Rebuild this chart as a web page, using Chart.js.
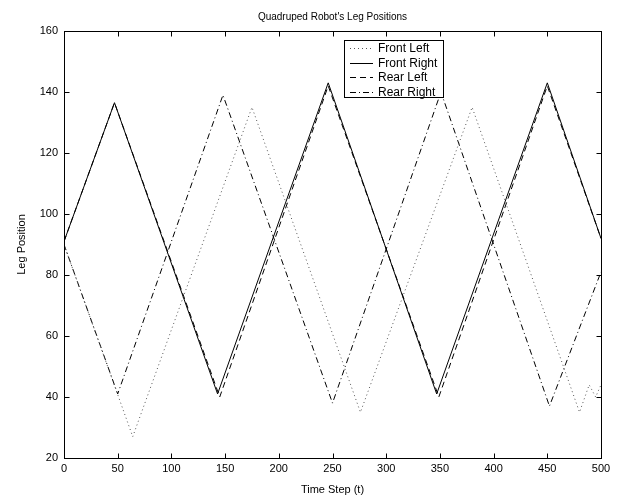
<!DOCTYPE html>
<html><head><meta charset="utf-8">
<script src="https://cdn.jsdelivr.net/npm/chart.js@4/dist/chart.umd.min.js"></script>
<style>html,body{margin:0;padding:0;background:#fff}#wrap{width:621px;height:502px;position:relative}</style>
</head><body><div id="wrap"><canvas id="c" width="621" height="502"></canvas></div>
<script>
const chartTitle = "Quadruped Robot's Leg Positions";
const xTitle = 'Time Step (t)';
const yTitle = 'Leg Position';
const seriesNames = ['Front Left', 'Front Right', 'Rear Left', 'Rear Right'];

const frontLeftT  = [0, 64, 175, 276, 380, 480, 489, 495, 500];
const frontLeftY  = [90, 27, 135, 35, 135, 35, 44, 40, 44];
const frontRightT = [0, 47, 143, 246, 347, 450, 500];
const frontRightY = [91, 136.5, 41, 143, 41, 143, 92];
const rearLeftT   = [0, 47, 145, 246, 349, 450, 500];
const rearLeftY   = [91, 136.5, 40, 142, 40, 142, 92];
const rearRightT  = [0, 50, 148, 250, 351, 452, 500];
const rearRightY  = [90, 41, 139, 38, 140, 37, 81];

const xTicks = [0, 50, 100, 150, 200, 250, 300, 350, 400, 450, 500];
const yTicks = [20, 40, 60, 80, 100, 120, 140, 160];

const styles = [
  {color: '#555', dash: [1, 3]},
  {color: '#000', dash: []},
  {color: '#000', dash: [6, 4]},
  {color: '#000', dash: [6, 3, 1, 3]}
];
const tvals = [frontLeftT, frontRightT, rearLeftT, rearRightT];
const yvals = [frontLeftY, frontRightY, rearLeftY, rearRightY];

const datasets = seriesNames.map((name, i) => ({
  label: name,
  data: tvals[i].map((t, k) => ({x: t, y: yvals[i][k]})),
  showLine: true,
  borderColor: styles[i].color,
  borderDash: styles[i].dash,
  borderWidth: 1,
  pointRadius: 0,
  fill: false,
  tension: 0
}));

const FONT = 'Liberation Sans, Arial, Helvetica, sans-serif';

const framePlugin = {
  id: 'frame',
  afterDraw(chart) {
    const ctx = chart.ctx;
    const a = chart.chartArea;
    const xs = chart.scales.x, ys = chart.scales.y;
    const L = Math.round(a.left) + 0.5, R = Math.round(a.right) + 0.5;
    const T = Math.round(a.top) + 0.5, B = Math.round(a.bottom) + 0.5;
    ctx.save();
    ctx.strokeStyle = '#000';
    ctx.lineWidth = 1;
    ctx.setLineDash([]);
    ctx.strokeRect(L, T, R - L, B - T);
    const tl = 5;
    ctx.beginPath();
    xTicks.forEach(v => {
      const px = Math.round(xs.getPixelForValue(v)) + 0.5;
      ctx.moveTo(px, B); ctx.lineTo(px, B - tl);
      ctx.moveTo(px, T); ctx.lineTo(px, T + tl);
    });
    yTicks.forEach(v => {
      const py = Math.round(ys.getPixelForValue(v)) + 0.5;
      ctx.moveTo(L, py); ctx.lineTo(L + tl, py);
      ctx.moveTo(R, py); ctx.lineTo(R - tl, py);
    });
    ctx.stroke();

    // legend box
    const bx = 344.5, by = 40.5, bw = 99, bh = 57;
    ctx.fillStyle = '#fff';
    ctx.fillRect(bx, by, bw, bh);
    ctx.strokeRect(bx, by, bw, bh);
    ctx.font = '12px ' + FONT;
    ctx.textBaseline = 'middle';
    ctx.textAlign = 'left';
    seriesNames.forEach((name, i) => {
      const y = Math.round(48 + i * 14.5) + 0.5;
      ctx.strokeStyle = styles[i].color;
      ctx.setLineDash(styles[i].dash);
      ctx.beginPath();
      ctx.moveTo(350, y); ctx.lineTo(373, y);
      ctx.stroke();
      ctx.fillStyle = '#000';
      ctx.fillText(name, 378, y);
    });
    ctx.restore();
  }
};

new Chart(document.getElementById('c'), {
  type: 'scatter',
  data: {datasets},
  plugins: [framePlugin],
  options: {
    responsive: false,
    animation: false,
    devicePixelRatio: 1,
    layout: {padding: {top: 0, right: 20, left: 0, bottom: 0}},
    plugins: {
      legend: {display: false},
      tooltip: {enabled: false},
      title: {
        display: true, text: chartTitle, fullSize: false,
        color: '#000', font: {family: FONT, size: 10, weight: 'normal'},
        padding: {top: 11, bottom: 8}
      }
    },
    scales: {
      x: {
        type: 'linear', min: 0, max: 500,
        afterBuildTicks: s => { s.ticks = xTicks.map(v => ({value: v})); },
        afterFit: s => { s.height = 44; },
        grid: {display: false, drawTicks: false},
        border: {display: false},
        ticks: {color: '#000', font: {family: FONT, size: 11}, padding: 4, maxRotation: 0},
        title: {display: true, text: xTitle, color: '#000', font: {family: FONT, size: 11}, padding: {bottom: 5}}
      },
      y: {
        type: 'linear', min: 20, max: 160,
        afterBuildTicks: s => { s.ticks = yTicks.map(v => ({value: v})); },
        afterFit: s => { s.width = 64; },
        grid: {display: false, drawTicks: false},
        border: {display: false},
        ticks: {color: '#000', font: {family: FONT, size: 11}, padding: 6},
        title: {display: true, text: yTitle, color: '#000', font: {family: FONT, size: 11}, padding: {top: 15}}
      }
    }
  }
});
</script>
</body></html>
